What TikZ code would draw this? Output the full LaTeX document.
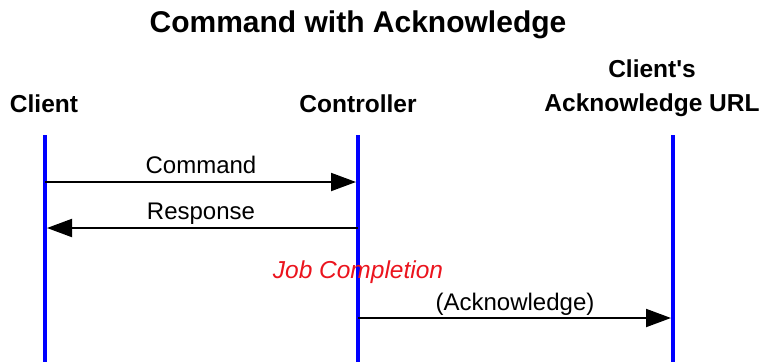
\documentclass[tikz,border=0pt]{standalone}
\usepackage{fontspec}
\setmainfont{Liberation Sans}
\newfontfamily\plainsans{Liberation Sans}
\usetikzlibrary{arrows.meta}
\definecolor{lifeblue}{RGB}{0,0,255}
\definecolor{jobred}{RGB}{235,20,30}
\begin{document}
\begin{tikzpicture}[x=1pt,y=-1pt,
  titletext/.style={font=\fontsize{30}{34}\selectfont\bfseries, anchor=base, inner sep=0pt},
  headtext/.style={font=\plainsans\fontsize{24.5}{33}\selectfont\bfseries, anchor=base, inner sep=0pt, align=center},
  msgtext/.style={font=\fontsize{24}{28}\selectfont, anchor=base, inner sep=0pt},
  notetext/.style={font=\fontsize{24.5}{28}\selectfont\itshape, text=jobred, anchor=base, inner sep=0pt},
  lifeline/.style={draw=lifeblue, line width=4pt},
  msg/.style={draw=black, line width=2pt, -{Triangle[length=25pt,width=18pt]}}
]
\useasboundingbox (0,0) rectangle (761,362);
\node[titletext] (title) at (358,32) {Command with Acknowledge};
\node[headtext] (hclient) at (44,112) {Client};
\node[headtext] (hctrl) at (358,112) {Controller};
\node[headtext] (hack1) at (652,77) {Client's};
\node[headtext] (hack2) at (652,111) {Acknowledge URL};
\coordinate (c1) at (45,135);
\coordinate (c2) at (45,362);
\coordinate (k1) at (358,135);
\coordinate (k2) at (358,362);
\coordinate (u1) at (673,135);
\coordinate (u2) at (673,362);
\draw[lifeline] (c1) -- (c2);
\draw[lifeline] (k1) -- (k2);
\draw[lifeline] (u1) -- (u2);
\coordinate (cmdA) at (45,182);
\coordinate (cmdB) at (356,182);
\coordinate (resA) at (358,228);
\coordinate (resB) at (47,228);
\coordinate (ackA) at (358,318);
\coordinate (ackB) at (671,318);
\draw[msg] (cmdA) -- (cmdB);
\draw[msg] (resA) -- (resB);
\draw[msg] (ackA) -- (ackB);
\node[msgtext] (lcmd) at (201,173) {Command};
\node[msgtext] (lres) at (201,219) {Response};
\node[notetext] (ljob) at (358,278) {Job Completion};
\node[msgtext] (lack) at (515,310) {(Acknowledge)};
\end{tikzpicture}
\end{document}
